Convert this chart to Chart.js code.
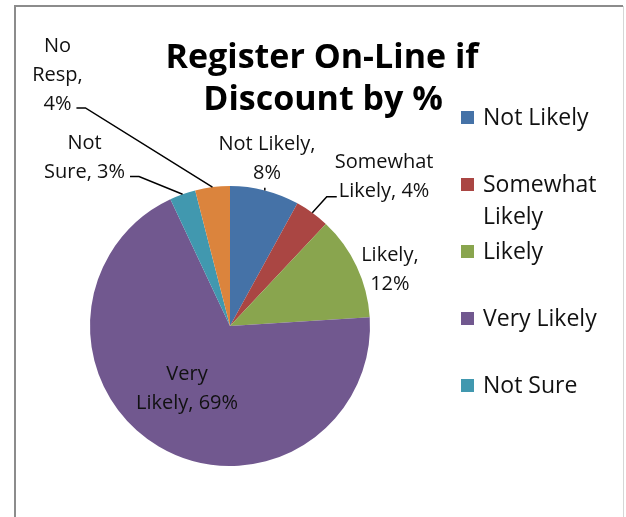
<!DOCTYPE html>
<html>
<head>
<meta charset="utf-8">
<script src="https://cdn.jsdelivr.net/npm/chart.js@4.4.1/dist/chart.umd.min.js"></script>
<style>
  html, body { margin: 0; padding: 0; background: #fff; }
  #wrap { width: 626px; height: 517px; position: relative; }
</style>
</head>
<body>
<div id="wrap"><canvas id="pieChart"></canvas></div>
<script>
// values
const categories = ['Not Likely', 'Somewhat Likely', 'Likely', 'Very Likely', 'Not Sure', 'No Resp'];
const percents = [8, 4, 12, 69, 3, 4];
const sliceColors = ['#4572A7', '#AA4643', '#89A54E', '#71588F', '#4198AF', '#DB843D'];
const titleLines = ['Register On-Line if', 'Discount by %'];
const legendCount = 5; // the original legend stops at "Not Sure"

// label layout: words on each line, and where the label block sits
// (angle in degrees clockwise from 12 o'clock, distance in pie radii)
const labelWords = [[2, 1], [1, 2], [1, 1], [1, 2], [1, 2], [1, 1, 1]];
const labelPlace = [
	{ a: 12.5, d: 1.22, line: 'bottom' },
	{ a: 46.0, d: 1.53, line: 'left' },
	{ a: 70.7, d: 1.21, line: 'none' },
	{ a: 214.3, d: 0.545, line: 'none' },
	{ a: 319.1, d: 1.587, line: 'right' },
	{ a: 325.5, d: 2.176, line: 'right' }
];

const LABEL_FONT = '20px "Open Sans"';
const LABEL_LINE = 29;
const LEGEND_FONT = '23px "Open Sans"';
const TITLE_FONT = 'bold 34px "Open Sans"';

// grey chart frame (left + top darker, right side light)
const framePlugin = {
	id: 'frame',
	beforeDraw(chart) {
		const ctx = chart.ctx;
		ctx.save();
		ctx.fillStyle = '#fff';
		ctx.fillRect(0, 0, chart.width, chart.height);
		ctx.strokeStyle = '#8c8c8c';
		ctx.lineWidth = 2;
		ctx.beginPath();
		ctx.moveTo(15, chart.height);
		ctx.lineTo(15, 6);
		ctx.lineTo(623, 6);
		ctx.stroke();
		ctx.strokeStyle = '#d6d6d6';
		ctx.lineWidth = 1;
		ctx.beginPath();
		ctx.moveTo(623.5, 6);
		ctx.lineTo(623.5, chart.height);
		ctx.stroke();
		ctx.restore();
	}
};

// data labels with leader lines
const labelPlugin = {
	id: 'pieLabels',
	afterDatasetsDraw(chart) {
		const ctx = chart.ctx;
		const arcs = chart.getDatasetMeta(0).data;
		ctx.save();
		ctx.font = LABEL_FONT;
		ctx.fillStyle = '#111';
		ctx.strokeStyle = '#000';
		ctx.lineWidth = 1.5;
		ctx.textAlign = 'center';
		ctx.textBaseline = 'middle';
		arcs.forEach((arc, i) => {
			const p = arc.getProps(['x', 'y', 'outerRadius', 'startAngle', 'endAngle'], true);
			const words = (categories[i] + ', ' + percents[i] + '%').split(' ');
			const lines = [];
			let k = 0;
			labelWords[i].forEach(n => { lines.push(words.slice(k, k + n).join(' ')); k += n; });

			const place = labelPlace[i];
			const ang = (place.a - 90) * Math.PI / 180;
			const cx = p.x + Math.cos(ang) * place.d * p.outerRadius;
			const cy = p.y + Math.sin(ang) * place.d * p.outerRadius;
			const top = cy - (lines.length - 1) * LABEL_LINE / 2;
			lines.forEach((t, j) => ctx.fillText(t, cx, top + j * LABEL_LINE));

			if (place.line === 'none') return;
			const mid = (p.startAngle + p.endAngle) / 2;
			const ex = p.x + Math.cos(mid) * p.outerRadius;
			const ey = p.y + Math.sin(mid) * p.outerRadius;
			const lastY = top + (lines.length - 1) * LABEL_LINE;
			const w = ctx.measureText(lines[lines.length - 1]).width;
			ctx.beginPath();
			if (place.line === 'right') {
				const sx = cx + w / 2 + 5, sy = lastY + 4;
				ctx.moveTo(sx, sy);
				ctx.lineTo(sx + 9, sy);
				ctx.lineTo(ex, ey);
			} else if (place.line === 'left') {
				const sx = cx - w / 2 - 2, sy = lastY + 5;
				ctx.moveTo(sx, sy);
				ctx.lineTo(sx - 10, sy);
				ctx.lineTo(ex, ey);
			} else {
				ctx.moveTo(ex, ey);
				ctx.lineTo(ex, lastY + 14);
			}
			ctx.stroke();
		});
		ctx.restore();
	}
};

// title and legend drawn by hand so the legend can wrap like the original
const textPlugin = {
	id: 'titleLegend',
	afterDraw(chart) {
		const ctx = chart.ctx;
		ctx.save();
		ctx.fillStyle = '#000';
		ctx.font = TITLE_FONT;
		ctx.textAlign = 'center';
		ctx.textBaseline = 'alphabetic';
		ctx.fillText(titleLines[0], 322, 68);
		ctx.fillText(titleLines[1], 323, 110);

		ctx.font = LEGEND_FONT;
		ctx.textAlign = 'left';
		ctx.textBaseline = 'middle';
		for (let i = 0; i < legendCount; i++) {
			const y = 118 + i * 67;
			ctx.fillStyle = sliceColors[i];
			ctx.fillRect(461, y - 7, 13, 13);
			ctx.fillStyle = '#111';
			// simple word wrap at the right edge of the frame
			const words = categories[i].split(' ');
			let line = '', row = 0;
			words.forEach(wd => {
				const test = line ? line + ' ' + wd : wd;
				if (line && ctx.measureText(test).width > 132) {
					ctx.fillText(line, 483, y + row * 32);
					row++;
					line = wd;
				} else {
					line = test;
				}
			});
			ctx.fillText(line, 483, y + row * 32);
		}
		ctx.restore();
	}
};

const ctx = document.getElementById('pieChart').getContext('2d');
new Chart(ctx, {
	type: 'pie',
	data: {
		labels: categories,
		datasets: [{
			data: percents,
			backgroundColor: sliceColors,
			borderWidth: 0
		}]
	},
	options: {
		responsive: true,
		maintainAspectRatio: false,
		animation: false,
		layout: { padding: { left: 90, right: 256, top: 186, bottom: 51 } },
		plugins: {
			legend: { display: false },
			title: { display: false },
			tooltip: { enabled: false }
		}
	},
	plugins: [framePlugin, labelPlugin, textPlugin]
});
</script>
</body>
</html>
